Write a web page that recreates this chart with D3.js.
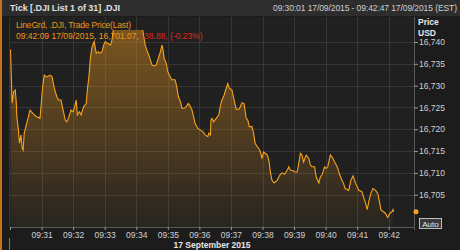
<!DOCTYPE html>
<html>
<head>
<meta charset="utf-8">
<script src="https://cdn.jsdelivr.net/npm/d3@7"></script>
<style>
  body { margin: 0; background: #1b1b1b; }
  svg text { font-family: "Liberation Sans", Arial, sans-serif; }
</style>
</head>
<body>
<script>
// Tick data: seconds after 09:30:00 and last trade price
var tickSeconds = [1, 4, 7, 10, 12, 13, 16, 18, 21, 23, 25, 27, 31, 35, 38, 44, 50, 57, 59, 62,
  65, 70, 76, 80, 83, 86, 89, 92, 97, 101, 105, 108, 111, 116, 120, 122, 126, 128, 132, 135,
  140, 145, 147, 150, 153, 156, 160, 164, 168, 172, 175, 178, 181, 185, 191, 194, 197, 200, 210, 219, 228,
  238, 248, 252, 257, 260, 265, 270, 274, 278, 282, 286, 289, 291, 293, 297, 300, 303, 308, 311, 314,
  317, 320, 324, 327, 331, 335, 339, 343, 346, 349, 352, 357, 362, 367, 371, 376, 378, 381, 382, 384,
  387, 392, 397, 400, 403, 407, 411, 414, 417, 422, 426, 430, 435, 438, 441, 445, 449, 452, 455, 460,
  463, 466, 470, 473, 476, 479, 482, 485, 489, 492, 495, 498, 502, 508, 513, 517, 522, 527, 530, 533,
  538, 542, 546, 549, 552, 555, 558, 563, 568, 571, 574, 579, 582, 587, 590, 593, 598, 601, 604, 609,
  612, 617, 622, 627, 631, 634, 637, 644, 648, 652, 657, 663, 669, 672, 676, 679, 682, 686, 690, 695,
  699, 703, 705, 710, 714, 718, 722, 726, 728, 729];
var tickPrices = [16738.3, 16726.0, 16728.6, 16729.0, 16726.0, 16722.9, 16719.8, 16716.8, 16718.7, 16715.7,
  16715.2, 16719.1, 16721.0, 16722.9, 16724.4, 16723.6, 16722.9, 16722.5, 16725.2, 16729.7,
  16732.4, 16732.0, 16732.4, 16732.0, 16730.1, 16728.6, 16727.5, 16726.7, 16726.7, 16724.4,
  16722.1, 16721.7, 16722.5, 16724.4, 16724.0, 16724.8, 16726.7, 16723.3, 16724.0, 16723.3,
  16725.2, 16725.9, 16729.0, 16732.0, 16736.6, 16738.9, 16740.1, 16737.4, 16737.8, 16737.4,
  16737.8, 16739.3, 16740.1, 16739.7, 16739.3, 16740.5, 16743.5, 16745.0, 16746.0, 16745.5, 16746.2,
  16745.4, 16744.6, 16742.9, 16739.3, 16738.2, 16736.6, 16734.7, 16734.5, 16734.7, 16736.3,
  16737.8, 16739.3, 16738.2, 16736.3, 16735.1, 16733.2, 16732.4, 16731.3, 16731.4, 16731.3,
  16729.7, 16727.5, 16726.3, 16724.8, 16724.8, 16725.2, 16725.9, 16725.2, 16724.4, 16722.9,
  16721.3, 16720.2, 16719.8, 16719.4, 16718.7, 16718.3, 16719.1, 16718.7, 16722.1, 16722.5,
  16721.7, 16722.5, 16723.3, 16725.5, 16726.7, 16727.8, 16729.4, 16730.5, 16729.4, 16729.0,
  16726.7, 16724.6, 16724.6, 16725.2, 16726.1, 16725.9, 16722.5, 16722.1, 16720.6, 16720.6,
  16719.1, 16716.8, 16716.0, 16715.6, 16714.8, 16713.3, 16714.8, 16714.5, 16714.1, 16712.9,
  16710.2, 16708.3, 16707.7, 16708.3, 16709.5, 16710.0, 16709.7, 16710.6, 16711.4, 16710.6,
  16710.5, 16710.2, 16710.2, 16712.2, 16714.5, 16714.1, 16712.5, 16714.1, 16713.3, 16711.8,
  16711.4, 16711.4, 16709.1, 16707.7, 16709.1, 16709.5, 16711.4, 16711.0, 16711.4, 16714.1,
  16713.7, 16712.5, 16711.4, 16709.5, 16708.3, 16707.6, 16706.4, 16706.0, 16708.3, 16709.3,
  16707.6, 16706.0, 16705.7, 16704.5, 16703.0, 16701.6, 16703.4, 16705.3, 16706.4, 16706.0,
  16705.3, 16703.0, 16701.5, 16701.1, 16700.7, 16699.8, 16700.7, 16701.1, 16701.6, 16701.07];

var yTickValues = [16705, 16710, 16715, 16720, 16725, 16730, 16735, 16740];
var xTickLabels = ["09:31", "09:32", "09:33", "09:34", "09:35", "09:36", "09:37", "09:38", "09:39", "09:40", "09:41", "09:42"];

var width = 460, height = 250;
var plot = { left: 10, right: 414, top: 17, bottom: 227 };
var clipTop = 30;

var baseTime = new Date(2015, 8, 17, 9, 30, 0);
var data = tickSeconds.map(function(s, i) {
  return { t: new Date(baseTime.getTime() + s * 1000), p: tickPrices[i] };
});

var svg = d3.select("body").append("svg")
  .attr("width", width)
  .attr("height", height);

// backgrounds
svg.append("rect").attr("width", width).attr("height", height).attr("fill", "#1c1c1c");
svg.append("rect").attr("width", width).attr("height", 16).attr("fill", "#2d2d2d");
svg.append("rect").attr("x", 0).attr("y", 0).attr("width", 2).attr("height", height).attr("fill", "#c7731c");
svg.append("rect")
  .attr("x", plot.left).attr("y", plot.top)
  .attr("width", plot.right - plot.left).attr("height", plot.bottom - plot.top)
  .attr("fill", "#202020");

var x = d3.scaleTime()
  .domain([baseTime, new Date(baseTime.getTime() + 768 * 1000)])
  .range([plot.left, plot.right]);

var y = d3.scaleLinear()
  .domain([16697.6, 16745.73])
  .range([plot.bottom, plot.top]);

var minuteTicks = d3.range(0, 13).map(function(m) { return new Date(baseTime.getTime() + m * 60000); });

// grid
svg.append("g").selectAll("line.h")
  .data(yTickValues)
  .enter().append("line")
  .attr("x1", plot.left).attr("x2", plot.right)
  .attr("y1", d => Math.round(y(d)) + 0.5).attr("y2", d => Math.round(y(d)) + 0.5)
  .attr("stroke", "#363636");
svg.append("g").selectAll("line.v")
  .data(minuteTicks.slice(1))
  .enter().append("line")
  .attr("y1", plot.top).attr("y2", plot.bottom)
  .attr("x1", d => Math.round(x(d)) + 0.5).attr("x2", d => Math.round(x(d)) + 0.5)
  .attr("stroke", "#363636");

// area gradient + clip
var defs = svg.append("defs");
var grad = defs.append("linearGradient")
  .attr("id", "fillGrad")
  .attr("gradientUnits", "userSpaceOnUse")
  .attr("x1", 0).attr("x2", 0).attr("y1", clipTop).attr("y2", plot.bottom);
grad.append("stop").attr("offset", "0%").attr("stop-color", "#e8951f").attr("stop-opacity", 0.45);
grad.append("stop").attr("offset", "100%").attr("stop-color", "#e8951f").attr("stop-opacity", 0.04);
defs.append("clipPath").attr("id", "plotClip")
  .append("rect")
  .attr("x", plot.left).attr("y", clipTop)
  .attr("width", plot.right - plot.left).attr("height", plot.bottom - clipTop);

var area = d3.area()
  .x(d => x(d.t))
  .y0(plot.bottom)
  .y1(d => y(d.p));
var line = d3.line()
  .x(d => x(d.t))
  .y(d => y(d.p));

var series = svg.append("g").attr("clip-path", "url(#plotClip)");
series.append("path").datum(data).attr("d", area).attr("fill", "url(#fillGrad)");
series.append("path").datum(data).attr("d", line)
  .attr("fill", "none").attr("stroke", "#f7a21b").attr("stroke-width", 1.1);

// axes lines
svg.append("line").attr("x1", plot.right + 0.5).attr("x2", plot.right + 0.5)
  .attr("y1", plot.top).attr("y2", plot.bottom + 3).attr("stroke", "#5a5a5a");
svg.append("line").attr("x1", plot.left).attr("x2", plot.right)
  .attr("y1", plot.bottom + 0.5).attr("y2", plot.bottom + 0.5).attr("stroke", "#5a5a5a");
svg.append("line").attr("x1", plot.left - 0.5).attr("x2", plot.left - 0.5)
  .attr("y1", plot.top).attr("y2", plot.bottom).attr("stroke", "#333");

// y axis
var yAxis = d3.axisRight(y)
  .tickValues(yTickValues)
  .tickSize(4)
  .tickFormat(d3.format(",d"));
var gy = svg.append("g")
  .attr("transform", `translate(${plot.right},0)`)
  .call(yAxis);
gy.select(".domain").remove();
gy.selectAll(".tick line").attr("stroke", "#9a9a9a");
gy.selectAll(".tick text").attr("fill", "#d0d0d0").attr("font-size", "8.5px").attr("x", 5)
  .style("font-family", "Liberation Sans, Arial, sans-serif");

// x axis
var xAxis = d3.axisBottom(x)
  .tickValues(minuteTicks)
  .tickSize(3)
  .tickFormat(function(d, i) { return i === 0 ? "" : xTickLabels[i - 1]; });
var gx = svg.append("g")
  .attr("transform", `translate(0,${plot.bottom})`)
  .call(xAxis);
gx.select(".domain").remove();
gx.selectAll(".tick line").attr("stroke", "#9a9a9a");
gx.selectAll(".tick text").attr("fill", "#d0d0d0").attr("font-size", "8.5px").attr("y", 5)
  .style("font-family", "Liberation Sans, Arial, sans-serif");

svg.append("line").attr("x1", plot.left - 0.5).attr("x2", plot.left - 0.5)
  .attr("y1", 238).attr("y2", 250).attr("stroke", "#777");
svg.append("text").attr("x", 212).attr("y", 248)
  .attr("text-anchor", "middle").attr("font-size", "8.5px").attr("font-weight", "bold")
  .attr("fill", "#e6e6e6").text("17 September 2015");

// header
svg.append("text").attr("x", 10).attr("y", 11)
  .attr("font-size", "9px").attr("font-weight", "bold").attr("fill", "#e0e0e0")
  .attr("textLength", 110)
  .text("Tick [.DJI List 1 of 31] .DJI");
svg.append("text").attr("x", 273).attr("y", 11)
  .attr("font-size", "8.5px").attr("fill", "#cfcfcf")
  .attr("textLength", 184)
  .text("09:30:01 17/09/2015 - 09:42:47 17/09/2015 (EST)");

svg.append("text").attr("x", 418).attr("y", 25)
  .attr("font-size", "8.5px").attr("font-weight", "bold").attr("fill", "#e6e6e6").text("Price");
svg.append("text").attr("x", 418).attr("y", 36)
  .attr("font-size", "8.5px").attr("font-weight", "bold").attr("fill", "#e6e6e6").text("USD");

// legend
svg.append("text").attr("x", 16).attr("y", 28)
  .attr("font-size", "8.5px").attr("fill", "#ef951c")
  .attr("textLength", 115)
  .text("LineGrd, .DJI, Trade Price(Last)");
var leg2 = svg.append("text").attr("x", 16).attr("y", 39).attr("font-size", "8.5px");
leg2.append("tspan").attr("fill", "#ef951c").text("09:42:09 17/09/2015, 16,701.07, ");
leg2.append("tspan").attr("fill", "#e0231c").text("-38.88, (-0.23%)");

// last price marker
var last = data[data.length - 1];
svg.append("circle").attr("cx", 416).attr("cy", y(last.p)).attr("r", 2.5).attr("fill", "#f7a21b");

// Auto button
svg.append("rect").attr("x", 419.5).attr("y", 218.5).attr("width", 22).attr("height", 10)
  .attr("fill", "#3a3a3a").attr("stroke", "#bdbdbd");
svg.append("text").attr("x", 430.5).attr("y", 226.5).attr("text-anchor", "middle")
  .attr("font-size", "8px").attr("fill", "#e6e6e6").text("Auto");
</script>
</body>
</html>
